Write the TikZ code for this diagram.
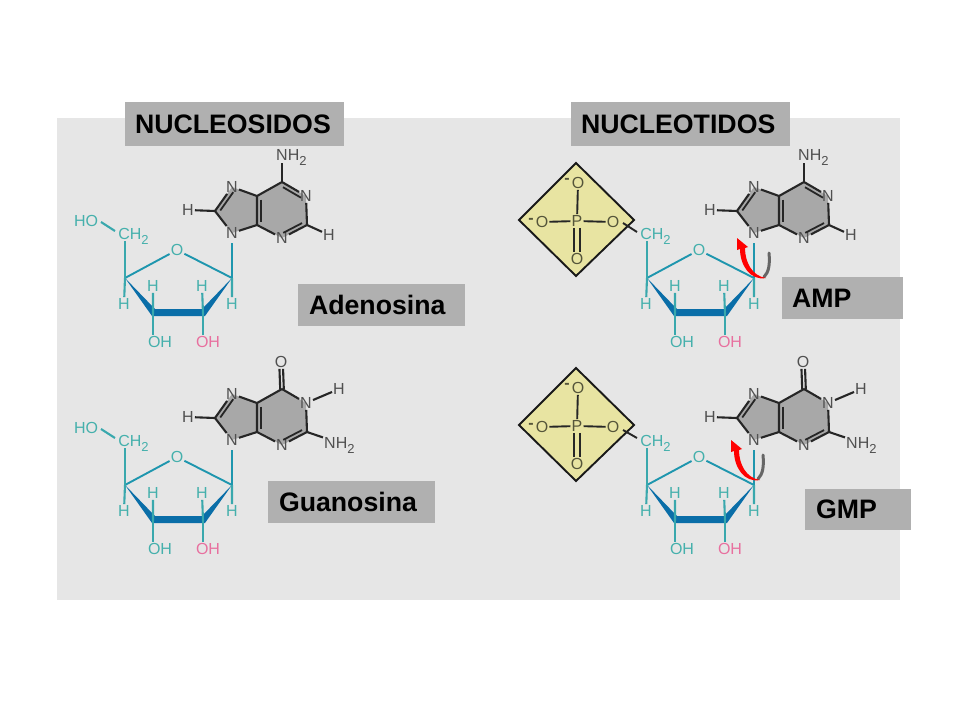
\documentclass[tikz,border=0pt]{standalone}
\usepackage{fontspec}
\setmainfont{Liberation Sans}
\usetikzlibrary{calc}
\definecolor{panelgray}{HTML}{E6E6E6}
\definecolor{boxgray}{HTML}{B0B0B0}
\definecolor{ringgray}{HTML}{A8A8A8}
\definecolor{atomgray}{HTML}{505050}
\definecolor{sugarteal}{HTML}{45B0AC}
\definecolor{bondblue}{HTML}{1E96AE}
\definecolor{wedgeblue}{HTML}{0A6EA8}
\definecolor{riboserose}{HTML}{E8709F}
\definecolor{phosphyellow}{HTML}{E8E4A2}
\definecolor{atomolive}{HTML}{55553A}
\tikzset{
	atom/.style={inner sep=1pt,text height=11.5pt,text depth=0pt,font=\fontsize{16}{16}\selectfont},
	sugaratom/.style={atom,text=sugarteal},
	baseatom/.style={atom,text=atomgray},
	phosatom/.style={atom,text=atomolive},
	sugarbond/.style={draw=bondblue,line width=1.9pt},
	tealbond/.style={draw=sugarteal!70!bondblue,line width=2.1pt},
	basebond/.style={draw=black!85,line width=2.1pt},
	phosbond/.style={draw=black!85,line width=1.9pt},
	chargemark/.style={inner sep=0pt,text=atomolive,font=\fontsize{16}{16}\bfseries\selectfont},
	titlebox/.style={fill=boxgray,font=\fontsize{26.7}{26.7}\bfseries\selectfont,inner ysep=0pt,align=left,text=black}
}
\newcommand{\subtwo}{\raisebox{-5pt}{\fontsize{13}{13}\selectfont 2}}
% second stroke of a double bond
\newcommand{\dbl}[2]{\draw[basebond,line width=1.8pt,shorten >=3.5pt,shorten <=3.5pt] ($(#1)!4pt!90:(#2)$) -- ($(#2)!4pt!-90:(#1)$);}
% ribose ring: prefix, shift x, shift y
\newcommand{\ribose}[3]{
	\begin{scope}[shift={(#2,#3)}]
		\fill[wedgeblue] (125,278) -- (152,316) -- (205,316) -- (232,278) -- (202,309) -- (155,309) -- cycle;
		\coordinate (#1c4) at (125,278);
		\coordinate (#1c1) at (232,278);
		\coordinate (#1c3) at (153,314);
		\coordinate (#1c2) at (203,314);
		\node[sugaratom] (#1o) at (177,250) {O};
		\node[sugaratom] (#1h4) at (124,304) {H};
		\node[sugaratom] (#1h1) at (232,304) {H};
		\node[sugaratom] (#1h3) at (153,286) {H};
		\node[sugaratom] (#1h2) at (202,286) {H};
		\node[sugaratom] (#1oh3) at (160,342) {OH};
		\node[atom,text=riboserose] (#1oh2) at (208,342) {OH};
		\node[sugaratom] (#1ch) at (133.5,234) {CH\subtwo};
		\coordinate (#1up) at (232,243);
		\draw[sugarbond] (#1c4) -- (#1o) (#1o) -- (#1c1);
		\draw[tealbond] (#1c4) -- (#1h4) (#1c1) -- (#1h1);
		\draw[tealbond] (#1c3) -- (#1h3) (#1c2) -- (#1h2);
		\draw[tealbond] (#1c3) -- (#1c3 |- #1oh3.north) (#1c2) -- (#1c2 |- #1oh2.north);
		\draw[tealbond] (#1c4) -- (#1c4 |- #1ch.south);
		\draw[sugarbond] (#1c1) -- (#1up);
	\end{scope}
}
% free 5' hydroxyl of the nucleosides
\newcommand{\hydroxyl}[3]{
	\begin{scope}[shift={(#2,#3)}]
		\node[sugaratom] (#1ho) at (86,221) {HO};
		\coordinate (#1hoend) at (101,222);
		\coordinate (#1chend) at (115,231);
		\draw[tealbond] (#1hoend) -- (#1chend);
	\end{scope}
}
% purine skeleton shared by both bases
\newcommand{\purine}[3]{
	\begin{scope}[shift={(#2,#3)}]
		\fill[ringgray] (232,233) -- (215,211) -- (232,187) -- (257,196) -- (282,182) -- (306,196) -- (307,225) -- (282,238) -- (257,225) -- cycle;
		\coordinate (#1c8) at (215,211);
		\coordinate (#1c5) at (257,196);
		\coordinate (#1c4b) at (257,225);
		\coordinate (#1c6) at (282,182);
		\coordinate (#1c2b) at (307,225);
		\node[baseatom] (#1n9) at (232,233) {N};
		\node[baseatom] (#1n7) at (232,187) {N};
		\node[baseatom] (#1n3) at (282,238) {N};
		\node[baseatom] (#1n1) at (306,196) {N};
		\node[baseatom] (#1h8) at (188,210) {H};
		\draw[basebond] (#1n9) -- (#1c8) -- (#1n7) (#1n7) -- (#1c5) -- (#1c6);
		\draw[basebond] (#1c5) -- (#1c4b) -- (#1n9) (#1c4b) -- (#1n3) -- (#1c2b);
		\draw[basebond] (#1c6) -- (#1n1) -- (#1c2b);
		\draw[basebond] (#1c8) -- (#1h8);
		\dbl{#1n7}{#1c8}
		\dbl{#1c5}{#1c4b}
		\dbl{#1n3}{#1c2b}
	\end{scope}
}
\newcommand{\adenine}[3]{
	\purine{#1}{#2}{#3}
	\begin{scope}[shift={(#2,#3)}]
		\node[baseatom] (#1h2b) at (329,235) {H};
		\node[baseatom,anchor=west] (#1nh2) at (275,155) {NH\subtwo};
		\coordinate (#1nh2n) at (282,163);
		\draw[basebond] (#1c2b) -- (#1h2b);
		\draw[basebond] (#1c6) -- (#1nh2n);
		\dbl{#1n1}{#1c6}
	\end{scope}
}
\newcommand{\guanine}[3]{
	\purine{#1}{#2}{#3}
	\begin{scope}[shift={(#2,#3)}]
		\node[baseatom] (#1hn) at (339,182) {H};
		\node[baseatom] (#1ox) at (281,155) {O};
		\node[baseatom,anchor=west] (#1nh2) at (323,236) {NH\subtwo};
		\draw[basebond] (#1c2b) -- (#1nh2);
		\draw[basebond] (#1n1) -- (#1hn);
		\draw[basebond,transform canvas={xshift=-1.8pt,yshift=0pt}] (#1c6) -- (#1ox);
		\draw[basebond,transform canvas={xshift=1.8pt,yshift=0pt}] (#1c6) -- (#1ox);
	\end{scope}
}
% phosphate in its diamond: prefix, shift x, shift y
\newcommand{\phosphate}[3]{
	\begin{scope}[shift={(#2,#3)}]
		\draw[fill=phosphyellow,line width=1.9pt,draw=black!90,line join=miter] (576,163) -- (519,220) -- (576,276) -- (634,220) -- cycle;
		\node[phosatom] (#1p) at (577,221) {P};
		\node[phosatom] (#1otop) at (578,183) {O};
		\node[phosatom] (#1oleft) at (542,222) {O};
		\node[phosatom] (#1oright) at (613,222) {O};
		\node[phosatom] (#1obot) at (577,259) {O};
		\node[chargemark] (#1mtop) at (567,181) {-};
		\node[chargemark] (#1mleft) at (531,221) {-};
		\draw[phosbond] (#1p) -- (#1otop);
		\draw[phosbond] (#1p) -- (#1oleft);
		\draw[phosbond] (#1p) -- (#1oright);
		\draw[phosbond,transform canvas={xshift=-3pt,yshift=0pt}] (#1p) -- (#1obot);
		\draw[phosbond,transform canvas={xshift=3pt,yshift=0pt}] (#1p) -- (#1obot);
	\end{scope}
}
% tapered red arrow with the grey arc behind it
\newcommand{\flip}[3]{
	\begin{scope}[shift={(#2,#3)}]
		\coordinate (#1arctop) at (769,253);
		\coordinate (#1arcend) at (764,277);
		\draw[line width=3pt,draw=black!60,line cap=round] (#1arctop) .. controls (770,264) and (769,272) .. (#1arcend);
		\fill[red] (766,278) .. controls (752,276) and (745,262) .. (745,248) -- (748,247) -- (737,238) -- (737,250) -- (740,249) .. controls (740,265) and (750,281) .. (766,278) -- cycle;
	\end{scope}
}
\begin{document}
\begin{tikzpicture}[x=1pt,y=-1pt]
	\useasboundingbox (0,0) rectangle (960,720);
	\fill[panelgray] (57,118) rectangle (900,600);
	\node[titlebox,inner xsep=10pt,text width=199pt,minimum height=44pt] (nucleosidos) at (234.5,124) {NUCLEOSIDOS};
	\node[titlebox,inner xsep=10pt,text width=199pt,minimum height=44pt] (nucleotidos) at (680.5,124) {NUCLEOTIDOS};
	\node[titlebox,inner xsep=11pt,text width=145pt,minimum height=42pt] (adenosina) at (381.5,305) {Adenosina};
	\node[titlebox,inner xsep=11pt,text width=145pt,minimum height=42pt] (guanosina) at (351.5,502) {Guanosina};
	\node[titlebox,inner xsep=10pt,text width=101pt,minimum height=42pt] (amp) at (842.5,298) {AMP};
	\node[titlebox,inner xsep=11pt,text width=84pt,minimum height=41pt] (gmp) at (858,509.5) {GMP};
	\ribose{a}{0}{0}
	\hydroxyl{a}{0}{0}
	\adenine{a}{0}{0}
	\ribose{g}{0}{207}
	\hydroxyl{g}{0}{207}
	\guanine{g}{0}{207}
	\phosphate{pa}{0}{0}
	\ribose{ma}{522}{0}
	\adenine{ma}{522}{0}
	\phosphate{pg}{0}{205}
	\ribose{mg}{522}{207}
	\guanine{mg}{522}{207}
	\coordinate (paend) at (623,223);
	\coordinate (paout) at (637,232);
	\coordinate (pgend) at (623,430);
	\coordinate (pgout) at (637,438);
	\draw[phosbond] (paend) -- (paout);
	\draw[phosbond] (pgend) -- (pgout);
	\flip{fa}{0}{0}
	\flip{fg}{-6}{202}
\end{tikzpicture}
\end{document}
